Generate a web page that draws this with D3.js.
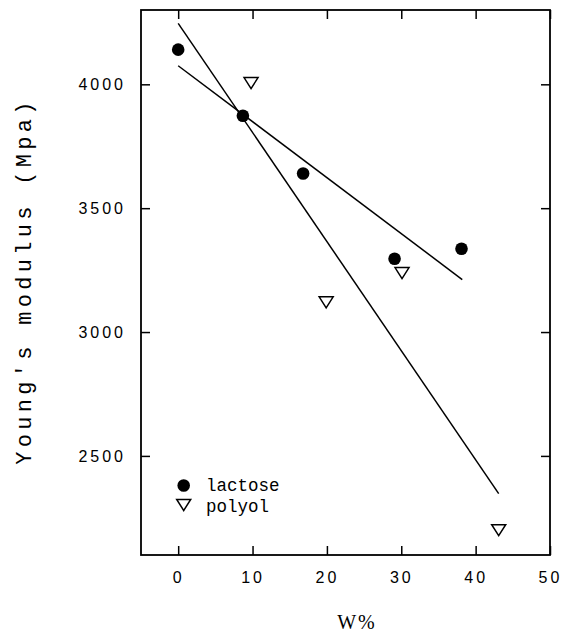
<!DOCTYPE html>
<html>
<head>
<meta charset="utf-8">
<script src="https://cdn.jsdelivr.net/npm/d3@7"></script>
<style>
  html, body { margin: 0; padding: 0; background: #fff; }
  svg { display: block; }
</style>
</head>
<body>
<div id="chart"></div>
<script>
// Données
const lactoseW = [0, 8.7, 16.8, 29.1, 38.1];
const lactoseE = [4140, 3873, 3640, 3296, 3336];
const polyolW = [9.8, 19.9, 30.1, 43.1];
const polyolE = [4005, 3120, 3238, 2200];
// droites de régression (extrémités)
const lactoseFitW = [0, 38.2];
const lactoseFitE = [4075, 3212];
const polyolFitW = [0, 43.1];
const polyolFitE = [4246, 2348];

const xTicks = [0, 10, 20, 30, 40, 50];
const yTicks = [2500, 3000, 3500, 4000];
const legendLabels = ['lactose', 'polyol'];

const width = 563, height = 637;
const plot = { left: 141, right: 550, top: 10, bottom: 555 };

const svg = d3.select('#chart').append('svg')
  .attr('width', width)
  .attr('height', height);

const x = d3.scaleLinear().domain([-5, 50]).range([plot.left, plot.right]);
const y = d3.scaleLinear().domain([2100, 4300]).range([plot.bottom, plot.top]);

const tickFont = g => g.selectAll('text')
  .style('font-family', '"Liberation Sans", Arial, sans-serif')
  .style('font-size', '16px')
  .style('letter-spacing', '3px')
  .attr('fill', '#000');

const cleanAxis = g => {
  g.select('.domain').remove();
  g.selectAll('.tick line').attr('stroke', '#000').attr('stroke-width', 1.5);
};

// Axes (ticks vers l'intérieur)
svg.append('g')
  .attr('transform', `translate(0,${plot.bottom})`)
  .call(d3.axisBottom(x).tickValues(xTicks).tickSize(-9).tickPadding(17).tickFormat(d3.format('d')))
  .call(cleanAxis)
  .call(tickFont);

svg.append('g')
  .attr('transform', `translate(0,${plot.top})`)
  .call(d3.axisTop(x).tickValues(xTicks).tickSize(-9).tickFormat(''))
  .call(cleanAxis);

svg.append('g')
  .attr('transform', `translate(${plot.left},0)`)
  .call(d3.axisLeft(y).tickValues(yTicks).tickSize(-9).tickPadding(15).tickFormat(d3.format('d')))
  .call(cleanAxis)
  .call(tickFont);

svg.append('g')
  .attr('transform', `translate(${plot.right},0)`)
  .call(d3.axisRight(y).tickValues(yTicks).tickSize(-9).tickFormat(''))
  .call(cleanAxis);

// Cadre
svg.append('rect')
  .attr('x', plot.left)
  .attr('y', plot.top)
  .attr('width', plot.right - plot.left)
  .attr('height', plot.bottom - plot.top)
  .attr('fill', 'none')
  .attr('stroke', '#000')
  .attr('stroke-width', 1.8);

// Droites
const line = d3.line().x(d => x(d[0])).y(d => y(d[1]));
[[lactoseFitW, lactoseFitE], [polyolFitW, polyolFitE]].forEach(([ws, es]) => {
  svg.append('path')
    .datum(d3.zip(ws, es))
    .attr('d', line)
    .attr('fill', 'none')
    .attr('stroke', '#000')
    .attr('stroke-width', 1.5);
});

// Marqueurs
const triPath = (cx, cy) => {
  const w = 7, h = 5.5;
  return `M${cx - w},${cy - h}L${cx + w},${cy - h}L${cx},${cy + h}Z`;
};

svg.append('g').selectAll('circle')
  .data(d3.zip(lactoseW, lactoseE))
  .enter().append('circle')
  .attr('cx', d => x(d[0]))
  .attr('cy', d => y(d[1]))
  .attr('r', 6.3)
  .attr('fill', '#000');

svg.append('g').selectAll('path')
  .data(d3.zip(polyolW, polyolE))
  .enter().append('path')
  .attr('d', d => triPath(x(d[0]), y(d[1])))
  .attr('fill', '#fff')
  .attr('stroke', '#000')
  .attr('stroke-width', 1.5);

// Légende
const leg = svg.append('g');
leg.append('circle')
  .attr('cx', 183.7).attr('cy', 485.5).attr('r', 6.3).attr('fill', '#000');
leg.append('path')
  .attr('d', triPath(183.7, 505))
  .attr('fill', '#fff').attr('stroke', '#000').attr('stroke-width', 1.5);
leg.selectAll('text')
  .data(legendLabels)
  .enter().append('text')
  .attr('x', 206)
  .attr('y', (d, i) => 491 + i * 20.5)
  .style('font-family', '"Liberation Mono", "Courier New", monospace')
  .style('font-size', '17.5px')
  .text(d => d);

// Titres des axes
svg.append('text')
  .attr('transform', 'translate(31,281) rotate(-90)')
  .attr('text-anchor', 'middle')
  .style('font-family', '"Liberation Mono", "Courier New", monospace')
  .style('font-size', '22px')
  .style('letter-spacing', '4.3px')
  .text("Young's modulus (Mpa)");

svg.append('text')
  .attr('x', 357)
  .attr('y', 629)
  .attr('text-anchor', 'middle')
  .style('font-family', '"Liberation Serif", "Times New Roman", serif')
  .style('font-size', '20px')
  .style('letter-spacing', '2px')
  .text('W%');
</script>
</body>
</html>
